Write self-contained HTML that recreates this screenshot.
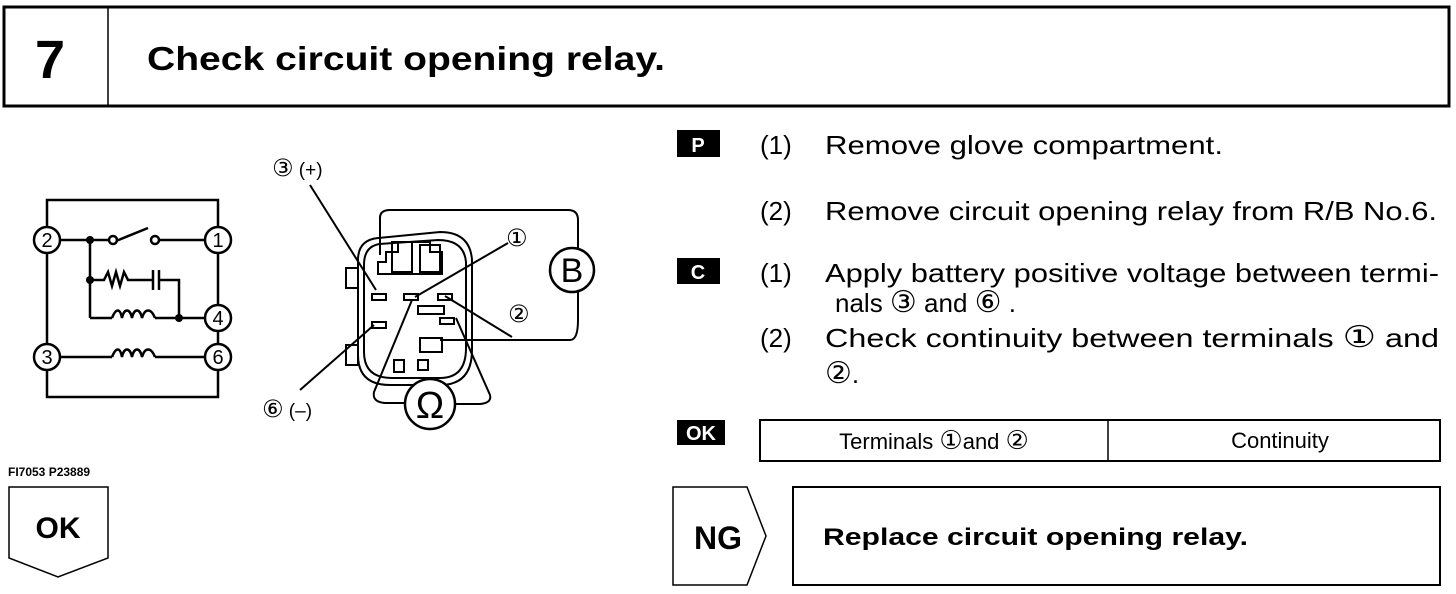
<!DOCTYPE html>
<html><head><meta charset="utf-8"><style>
body{margin:0;background:#fff;}
svg{display:block}
text{font-family:"Liberation Sans","DejaVu Sans",sans-serif;fill:#000}
.c{font-family:"DejaVu Sans",sans-serif}
</style></head><body>
<svg width="1456" height="594" viewBox="0 0 1456 594">
<g fill="none" stroke="#000">
<rect x="4" y="7" width="1445" height="99" stroke-width="3"/>
<line x1="108" y1="7" x2="108" y2="106" stroke-width="1.5"/>
</g>
<text x="35" y="78" font-size="54" font-weight="bold">7</text>
<text x="147" y="70" font-size="33" font-weight="bold" textLength="518" lengthAdjust="spacingAndGlyphs">Check circuit opening relay.</text>

<!-- left circuit -->
<g fill="none" stroke="#000" stroke-width="2.5">
<rect x="47" y="200" width="171" height="197"/>
<line x1="60" y1="240" x2="110" y2="240"/>
<line x1="116" y1="241" x2="148" y2="228"/>
<line x1="159" y1="240" x2="205" y2="240"/>
<line x1="90" y1="240" x2="90" y2="318"/>
<line x1="90" y1="318" x2="112" y2="318"/>
<line x1="155" y1="318" x2="205" y2="318"/>
<path d="M90 280 H104 l4 -8 4 14 4 -14 4 14 4 -14 4 8 H152"/>
<line x1="153" y1="270" x2="153" y2="290"/>
<line x1="159" y1="270" x2="159" y2="290"/>
<path d="M159 280 H179 V318"/>
<path d="M112 318 c4 -10 8 -10 10 0 c2 -10 8 -10 10 0 c2 -10 8 -10 10 0 c3 -10 9 -10 13 0"/>
<line x1="60" y1="357" x2="112" y2="357"/>
<line x1="155" y1="357" x2="205" y2="357"/>
<path d="M112 357 c4 -10 8 -10 10 0 c2 -10 8 -10 10 0 c2 -10 8 -10 10 0 c3 -10 9 -10 13 0"/>
<circle cx="113" cy="240" r="4"/><circle cx="155" cy="240" r="4"/>
</g>
<g fill="#000"><circle cx="90" cy="240" r="4"/><circle cx="90" cy="280" r="4"/><circle cx="179" cy="318" r="4"/></g>
<g fill="#fff" stroke="#000" stroke-width="2.5">
<circle cx="47" cy="240" r="13"/><circle cx="218" cy="240" r="13"/><circle cx="218" cy="318" r="13"/>
<circle cx="47" cy="357" r="13"/><circle cx="218" cy="357" r="13"/>
</g>
<g font-size="20" text-anchor="middle">
<text x="47" y="247">2</text><text x="218" y="247">1</text><text x="218" y="325">4</text>
<text x="47" y="364">3</text><text x="218" y="364">6</text>
</g>

<!-- connector -->
<g fill="none" stroke="#000" stroke-width="2">
<path d="M380 255 V218 Q380 210 390 210 H568 Q578 210 578 220 V320 Q578 340 570 340 H440"/>
<path d="M358 260 Q358 240 378 238 L440 232 Q470 232 472 260 V350 Q472 385 440 385 H390 Q358 385 358 355 Z"/>
<path d="M364 265 Q364 246 380 244 L438 240 Q464 240 466 262 V348 Q466 378 440 378 H392 Q364 378 364 352 Z"/>
<rect x="346" y="268" width="12" height="20"/><rect x="346" y="345" width="12" height="20"/>
<path d="M378 262 h8 v-10 h12 v-10 h32 v10 h12 v22 h-64z"/>
<rect x="392" y="242" width="20" height="30"/><rect x="420" y="245" width="20" height="27"/>
<rect x="372" y="294" width="14" height="6"/><rect x="404" y="294" width="14" height="6"/><rect x="438" y="294" width="14" height="6"/>
<rect x="372" y="322" width="14" height="6"/><rect x="440" y="318" width="14" height="6"/>
<rect x="420" y="338" width="22" height="14"/><rect x="394" y="360" width="10" height="12"/><rect x="418" y="360" width="10" height="10"/>
<path d="M418 306 H444 V314 H418 Z"/>
<line x1="310" y1="185" x2="376" y2="290"/>
<line x1="300" y1="390" x2="374" y2="325"/>
<line x1="415" y1="297" x2="508" y2="243"/>
<line x1="445" y1="296" x2="512" y2="337"/>
<path d="M412 300 L374 392 Q372 402 385 403 H404"/>
<path d="M456 318 L490 395 Q492 403 480 404 H456"/>
</g>
<circle cx="572" cy="270" r="22" fill="#fff" stroke="#000" stroke-width="2.5"/>
<text x="572" y="282" font-size="34" text-anchor="middle">B</text>
<circle cx="430" cy="404" r="25" fill="#fff" stroke="#000" stroke-width="2.5"/>
<text x="430" y="418" font-size="38" text-anchor="middle">Ω</text>
<g font-size="19">
<text x="272" y="176"><tspan class="c" font-size="24">③</tspan> (+)</text>
<text x="506" y="246" class="c" font-size="24">①</text>
<text x="508" y="322" class="c" font-size="24">②</text>
<text x="262" y="417"><tspan class="c" font-size="24">⑥</tspan> (–)</text>
</g>

<text x="8" y="476" font-size="12" font-weight="bold">FI7053 P23889</text>
<path d="M9 487 H108 V558 L58 577 L9 558 Z" fill="none" stroke="#000" stroke-width="1.5"/>
<text x="58" y="538" font-size="30" font-weight="bold" text-anchor="middle">OK</text>

<!-- right side -->
<rect x="677" y="130" width="43" height="27" fill="#000"/>
<text x="698" y="152" font-size="20" font-weight="bold" text-anchor="middle" style="fill:#fff">P</text>
<rect x="677" y="258" width="43" height="26" fill="#000"/>
<text x="698" y="279" font-size="20" font-weight="bold" text-anchor="middle" style="fill:#fff">C</text>
<rect x="677" y="420" width="48" height="25" fill="#000"/>
<text x="701" y="440" font-size="20" font-weight="bold" text-anchor="middle" style="fill:#fff">OK</text>

<g font-size="26">
<text x="760" y="154">(1)</text><text x="825" y="154" textLength="398" lengthAdjust="spacingAndGlyphs">Remove glove compartment.</text>
<text x="760" y="220">(2)</text><text x="825" y="220" textLength="612" lengthAdjust="spacingAndGlyphs">Remove circuit opening relay from R/B No.6.</text>
<text x="760" y="282">(1)</text><text x="825" y="282" textLength="614" lengthAdjust="spacingAndGlyphs">Apply battery positive voltage between termi-</text>
<text x="835" y="312">nals <tspan class="c" font-size="30">③</tspan> and <tspan class="c" font-size="30">⑥</tspan> .</text>
<text x="760" y="347">(2)</text><text x="825" y="347" textLength="614" lengthAdjust="spacingAndGlyphs">Check continuity between terminals <tspan class="c" font-size="30">①</tspan> and</text>
<text x="825" y="383"><tspan class="c" font-size="30">②</tspan>.</text>
</g>
<rect x="760" y="420" width="680" height="41" fill="none" stroke="#000" stroke-width="2"/>
<line x1="1108" y1="420" x2="1108" y2="461" stroke="#000" stroke-width="1.5"/>
<text x="934" y="449" font-size="22" text-anchor="middle">Terminals <tspan class="c" font-size="26">①</tspan>and <tspan class="c" font-size="26">②</tspan></text>
<text x="1280" y="448" font-size="22" text-anchor="middle">Continuity</text>

<path d="M673 487 H747 L766 536 L747 585 H673 Z" fill="none" stroke="#000" stroke-width="1.5"/>
<text x="718" y="549" font-size="32" font-weight="bold" text-anchor="middle">NG</text>
<rect x="793" y="487" width="647" height="98" fill="none" stroke="#000" stroke-width="2"/>
<text x="823" y="545" font-size="24" font-weight="bold" textLength="425" lengthAdjust="spacingAndGlyphs">Replace circuit opening relay.</text>
</svg>
</body></html>
